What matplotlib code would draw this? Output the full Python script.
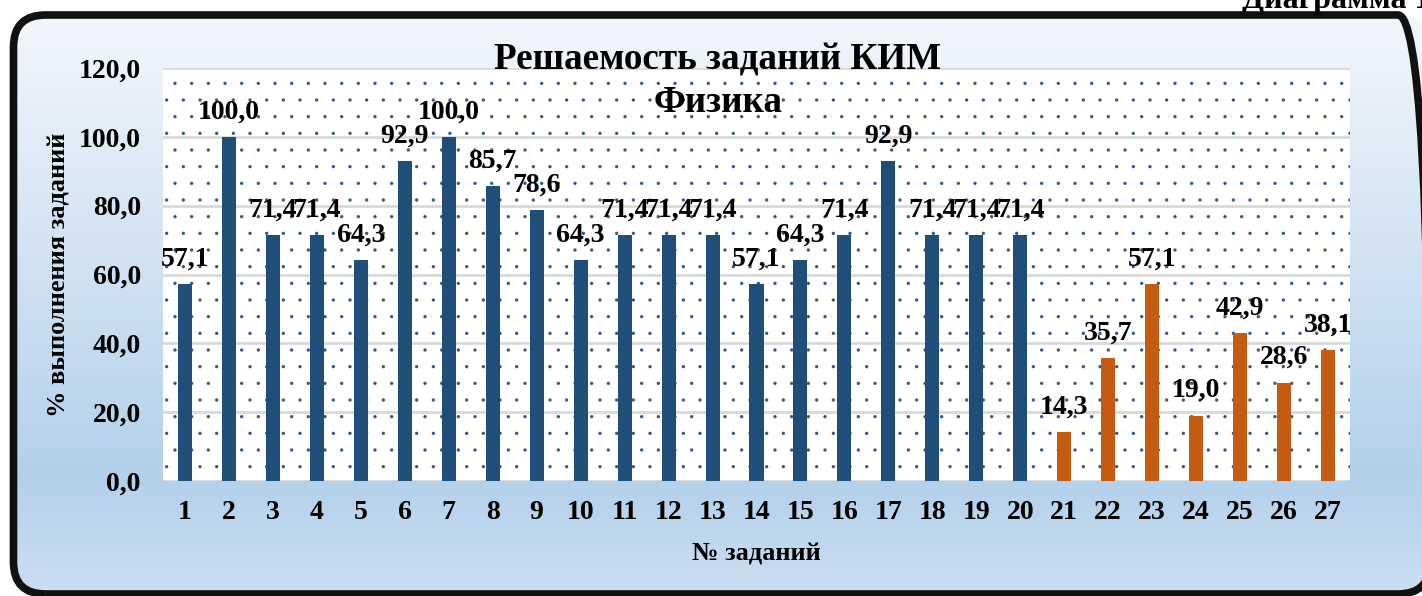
import numpy as np
import matplotlib
matplotlib.use("Agg")
import matplotlib.pyplot as plt
from matplotlib.patches import FancyBboxPatch, Rectangle
from matplotlib.colors import LinearSegmentedColormap

tasks = [str(i) for i in range(1, 28)]
values = [57.1, 100.0, 71.4, 71.4, 64.3, 92.9, 100.0, 85.7, 78.6, 64.3,
          71.4, 71.4, 71.4, 57.1, 64.3, 71.4, 92.9, 71.4, 71.4, 71.4,
          14.3, 35.7, 57.1, 19.0, 42.9, 28.6, 38.1]
part = ["A"] * 20 + ["B"] * 7
part_colors = {"A": "#1F4E79", "B": "#C55A11"}
yticks = [0, 20, 40, 60, 80, 100, 120]
title_lines = ["Решаемость заданий КИМ", "Физика"]
corner_note = "Диаграмма 1"

plt.rcParams['font.family'] = ['Liberation Serif', 'DejaVu Serif']
plt.rcParams['font.weight'] = 'bold'
plt.rcParams['hatch.linewidth'] = 0.0
plt.rcParams['hatch.color'] = '#2E5B8A'

W, H = 1422, 596
fig = plt.figure(figsize=(W / 100, H / 100), dpi=100)

# background axes in pixel coordinates (y up)
bg = fig.add_axes([0, 0, 1, 1])
bg.set_xlim(0, W)
bg.set_ylim(0, H)
bg.axis('off')
fx0, fx1 = 13.5, 1430
fy_top, fy_bot = 15, 594
box = dict(boxstyle="round,pad=0,rounding_size=32")
frame = FancyBboxPatch((fx0, H - fy_bot), fx1 - fx0, fy_bot - fy_top, **box,
                       facecolor='none', edgecolor='#111111', linewidth=5.5, zorder=3)
bg.add_patch(frame)
cmap = LinearSegmentedColormap.from_list("bgc", [(0, "#F5F8FC"), (0.8, "#B3D0EB"), (1, "#CBDFF2")])
grad = np.linspace(0, 1, 256).reshape(-1, 1)
im = bg.imshow(grad, cmap=cmap, extent=(0, W, 0, H), origin='upper', aspect='auto', zorder=1)
clip = FancyBboxPatch((fx0, H - fy_bot), fx1 - fx0, fy_bot - fy_top, **box,
                      facecolor='none', edgecolor='none', transform=bg.transData)
im.set_clip_path(clip)
bg.text(1242, H - 8, corner_note, fontsize=23, fontweight='bold', ha='left', va='baseline', zorder=4)

# main axes
L, R, T, B = 163, 1350, 68, 481
ax = fig.add_axes([L / W, 1 - B / H, (R - L) / W, (B - T) / H])
ax.set_facecolor('white')
ax.add_patch(Rectangle((0, 0), 1, 1, transform=ax.transAxes, facecolor='none',
                       edgecolor='#2E5B8A', hatch='.', linewidth=0, zorder=0))

x = np.arange(len(tasks))
colors = [part_colors[p] for p in part]
ax.bar(x, values, width=0.32, color=colors, zorder=3)
ax.set_xlim(-0.5, len(tasks) - 0.5)
ax.set_ylim(0, 120)
ax.set_yticks(yticks)
ax.set_yticklabels([f"{v:.1f}".replace('.', ',') for v in yticks], fontsize=20, fontweight='bold')
ax.set_xticks(x)
ax.set_xticklabels(tasks, fontsize=20, fontweight='bold')
ax.tick_params(length=0)
ax.tick_params(axis='x', pad=14)
ax.tick_params(axis='y', pad=16)
ax.yaxis.grid(True, color='#D9D9D9', linewidth=2, zorder=1)
for s in ax.spines.values():
    s.set_visible(False)
ax.set_axisbelow(True)

for xi, v in zip(x, values):
    ax.annotate(f"{v:.1f}".replace('.', ','), (xi, v), xytext=(0, 9), textcoords='offset points',
                ha='center', va='bottom', fontsize=20, fontweight='bold', zorder=5)

ax.set_ylabel("% выполнения заданий", fontsize=19, fontweight='bold', labelpad=6)
ax.set_xlabel("№ заданий", fontsize=19, fontweight='bold', labelpad=12)

fig.text(718 / W, 1 - 69 / H, title_lines[0], fontsize=26.7, fontweight='bold', ha='center', va='baseline')
fig.text(718 / W, 1 - 112 / H, title_lines[1], fontsize=26.7, fontweight='bold', ha='center', va='baseline')

fig.savefig("out.png", dpi=100)
